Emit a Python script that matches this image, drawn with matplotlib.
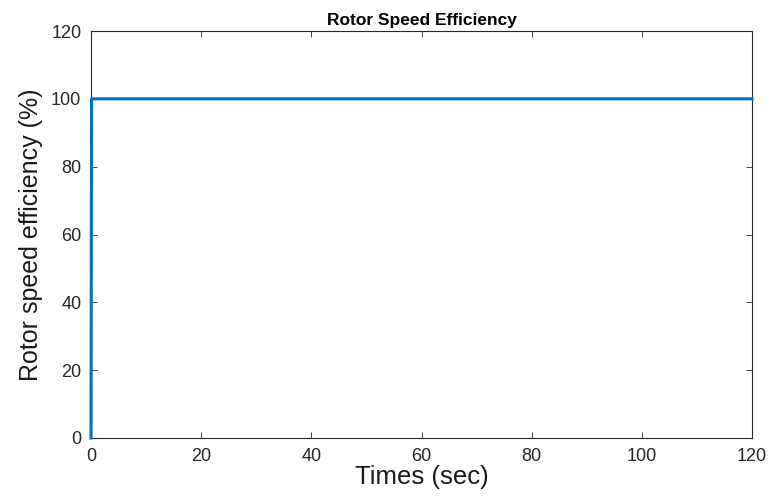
import matplotlib
matplotlib.use("Agg")
import matplotlib.pyplot as plt

# Rotor speed efficiency response over time
time_sec = [0.0, 0.1, 120.0]
efficiency_pct = [0.0, 100.0, 100.0]

x_ticks = [0, 20, 40, 60, 80, 100, 120]
y_ticks = [0, 20, 40, 60, 80, 100, 120]

plt.rcParams['font.family'] = ['Liberation Sans', 'DejaVu Sans']

fig = plt.figure(figsize=(7.74, 5.01), dpi=100)
ax = fig.add_axes([91 / 774, 1 - 438 / 501, (752 - 91) / 774, (438 - 31) / 501])

ax.plot(time_sec, efficiency_pct, color='#0072BD', linewidth=2.2,
        zorder=3, clip_on=False)

ax.set_xlim(0, 120)
ax.set_ylim(0, 120)
ax.set_xticks(x_ticks)
ax.set_yticks(y_ticks)
ax.tick_params(direction='in', length=4, width=0.6, colors='#262626',
               labelsize=13, top=True, right=True, pad=7)
for s in ax.spines.values():
    s.set_linewidth(0.8)
    s.set_color('#262626')

ax.set_xlabel('Times (sec)', fontsize=18.5, color='#1a1a1a', labelpad=0)
ax.set_ylabel('Rotor speed efficiency (%)', fontsize=18, color='#1a1a1a', labelpad=6)
ax.set_title('Rotor Speed Efficiency', fontsize=12.5, fontweight='bold', pad=4)

fig.savefig('out.png', dpi=100)
